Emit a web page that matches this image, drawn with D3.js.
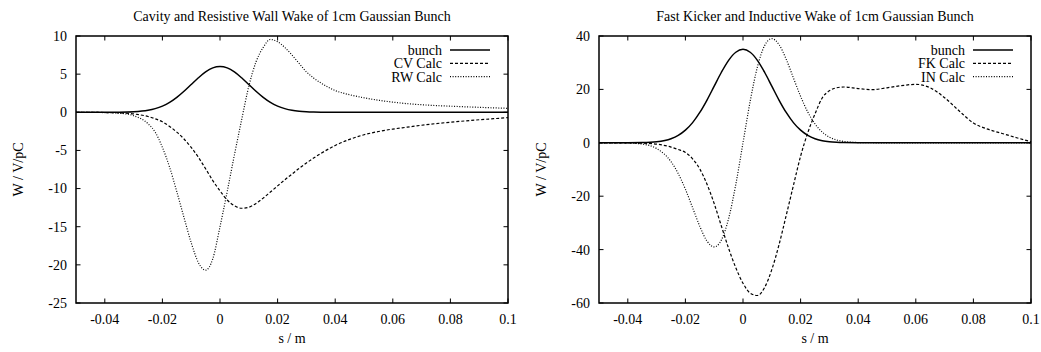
<!DOCTYPE html>
<html><head><meta charset="utf-8">
<script src="https://cdn.jsdelivr.net/npm/d3@7"></script>
<style>
html,body{margin:0;padding:0;background:#fff;}
svg text{font-family:"Liberation Serif","Times New Roman",serif;font-size:14px;fill:#000;}
</style>
</head><body>
<svg id="c" width="1041" height="352"></svg>
<script>
// ---- shared s grid (m)
const sGrid = [-0.05,-0.045,-0.04,-0.035,-0.03,-0.025,-0.0225,-0.02,-0.0175,-0.015,-0.0125,-0.01,-0.0075,-0.005,-0.0025,
  0,0.0025,0.005,0.0075,0.01,0.0125,0.015,0.0175,0.02,0.0225,0.025,0.0275,0.03,0.0325,0.035,
  0.04,0.045,0.05,0.055,0.06,0.065,0.07,0.075,0.08,0.085,0.09,0.095,0.1];

// ---- left panel
const leftTitle = "Cavity and Resistive Wall Wake of 1cm Gaussian Bunch";
const leftYTicks = [10,5,0,-5,-10,-15,-20,-25];
const bunchLeft = [0,0,0.002,0.013,0.067,0.26,0.48,0.81,1.29,1.95,2.75,3.64,4.52,5.29,5.82,
  6.0,5.82,5.29,4.52,3.64,2.75,1.95,1.29,0.81,0.48,0.26,0.136,0.067,0.031,0.013,
  0.002,0,0,0,0,0,0,0,0,0,0,0,0];
const cvCalc = [0,-0.01,-0.03,-0.08,-0.22,-0.55,-0.85,-1.25,-1.85,-2.6,-3.5,-4.6,-5.9,-7.4,-8.95,
  -10.3,-11.5,-12.25,-12.58,-12.45,-11.95,-11.25,-10.45,-9.65,-8.85,-8.1,-7.35,-6.65,-6.0,-5.4,
  -4.35,-3.55,-2.95,-2.52,-2.2,-1.95,-1.7,-1.48,-1.3,-1.14,-0.98,-0.84,-0.7];
const rwCalc = [0,-0.01,-0.04,-0.12,-0.45,-1.5,-2.6,-4.6,-7.2,-10.4,-13.8,-17.1,-19.7,-20.7,-19.2,
  -15.0,-10.4,-5.6,-1.0,3.4,6.6,8.5,9.55,9.25,8.5,7.5,6.4,5.3,4.5,3.85,
  2.85,2.3,1.9,1.58,1.33,1.13,0.99,0.88,0.8,0.72,0.65,0.58,0.52];
const leftLegend = ["bunch","CV Calc","RW Calc"];

// ---- right panel
const rightTitle = "Fast Kicker and Inductive Wake of 1cm Gaussian Bunch";
const rightYTicks = [40,20,0,-20,-40,-60];
const bunchRight = [0,0,0.012,0.076,0.39,1.53,2.79,4.74,7.56,11.36,16.02,21.23,26.42,30.89,33.91,
  35.0,33.91,30.89,26.42,21.23,16.02,11.36,7.56,4.74,2.79,1.53,0.8,0.39,0.18,0.076,
  0.012,0,0,0,0,0,0,0,0,0,0,0,0];
const fkCalc = [0,0,-0.05,-0.15,-0.5,-1.6,-2.5,-3.6,-6.0,-9.8,-15.5,-22.8,-31.2,-39.5,-46.8,
  -52.6,-56.3,-57.2,-54.2,-47.5,-38.2,-27.2,-16.0,-5.0,3.8,10.8,16.8,19.5,20.6,20.9,
  20.3,19.9,20.6,21.4,21.9,20.6,16.9,12.0,7.4,5.1,3.5,1.9,0.4];
const inCalc = [0,-0.01,-0.09,-0.49,-2.14,-7.06,-11.5,-17.4,-24.3,-31.3,-36.8,-39.0,-36.4,-28.4,-15.6,
  0,15.6,28.4,36.4,39.0,36.8,31.3,24.3,17.4,11.5,7.06,4.03,2.14,1.07,0.49,
  0.09,0.01,0,0,0,0,0,0,0,0,0,0,0];
const rightLegend = ["bunch","FK Calc","IN Calc"];

const xTicks = [-0.04,-0.02,0,0.02,0.04,0.06,0.08,0.1];
const xTickLabels = ["-0.04","-0.02","0","0.02","0.04","0.06","0.08","0.1"];
const xDomain = [-0.05,0.1];
const xLabel = "s / m", yLabel = "W / V/pC";

const styles = [
  {dash:null, w:1.5},
  {dash:"3,2", w:1.2},
  {dash:"1,1.6", w:1.2}
];

const svg = d3.select("#c");

function panel(cfg){
  const g = svg.append("g");
  const x = d3.scaleLinear().domain(xDomain).range([cfg.x0,cfg.x1]);
  const y = d3.scaleLinear().domain(cfg.yDomain).range([cfg.y1,cfg.y0]);
  const tl = 4.5;
  const tk = g.append("g").attr("stroke","#000").attr("stroke-width",1);
  xTicks.forEach((t,i)=>{
    tk.append("line").attr("x1",x(t)).attr("x2",x(t)).attr("y1",cfg.y1).attr("y2",cfg.y1-tl);
    tk.append("line").attr("x1",x(t)).attr("x2",x(t)).attr("y1",cfg.y0).attr("y2",cfg.y0+tl);
    g.append("text").attr("x",x(t)).attr("y",319).attr("dy","0.35em").attr("text-anchor","middle")
      .text(xTickLabels[i]);
  });
  cfg.yTicks.forEach(t=>{
    tk.append("line").attr("x1",cfg.x0).attr("x2",cfg.x0+tl).attr("y1",y(t)).attr("y2",y(t));
    tk.append("line").attr("x1",cfg.x1).attr("x2",cfg.x1-tl).attr("y1",y(t)).attr("y2",y(t));
    g.append("text").attr("x",cfg.x0-9).attr("y",y(t)).attr("dy","0.35em").attr("text-anchor","end").text(String(t));
  });
  const line = d3.line().x((d,i)=>x(sGrid[i])).y(d=>y(d)).curve(d3.curveMonotoneX);
  cfg.series.forEach((ser,k)=>{
    g.append("path").attr("d",line(ser)).attr("fill","none").attr("stroke","#000")
      .attr("stroke-width",styles[k].w).attr("stroke-dasharray",styles[k].dash);
  });
  g.append("rect").attr("x",cfg.x0).attr("y",cfg.y0).attr("width",cfg.x1-cfg.x0).attr("height",cfg.y1-cfg.y0)
    .attr("fill","none").attr("stroke","#000").attr("stroke-width",1.5);
  const ly = [50,63.3,76.6];
  cfg.legend.forEach((name,k)=>{
    g.append("text").attr("x",cfg.x1-66).attr("y",ly[k]).attr("dy","0.35em").attr("text-anchor","end").text(name);
    g.append("line").attr("x1",cfg.x1-58).attr("x2",cfg.x1-18).attr("y1",ly[k]).attr("y2",ly[k])
      .attr("stroke","#000").attr("stroke-width",styles[k].w).attr("stroke-dasharray",styles[k].dash);
  });
  const cx = (cfg.x0+cfg.x1)/2;
  g.append("text").attr("x",cx).attr("y",16).attr("dy","0.35em").attr("text-anchor","middle").text(cfg.title);
  g.append("text").attr("x",cx).attr("y",343).attr("text-anchor","middle").text(xLabel);
  g.append("text").attr("transform",`translate(${cfg.x0-58},${(cfg.y0+cfg.y1)/2}) rotate(-90)`)
    .attr("dy","0.35em").attr("text-anchor","middle").text(yLabel);
}

panel({x0:76,x1:508,y0:36,y1:303,yDomain:[-25,10],yTicks:leftYTicks,title:leftTitle,
  series:[bunchLeft,cvCalc,rwCalc],legend:leftLegend});
panel({x0:599,x1:1031,y0:36,y1:303,yDomain:[-60,40],yTicks:rightYTicks,title:rightTitle,
  series:[bunchRight,fkCalc,inCalc],legend:rightLegend});
</script>
</body></html>
